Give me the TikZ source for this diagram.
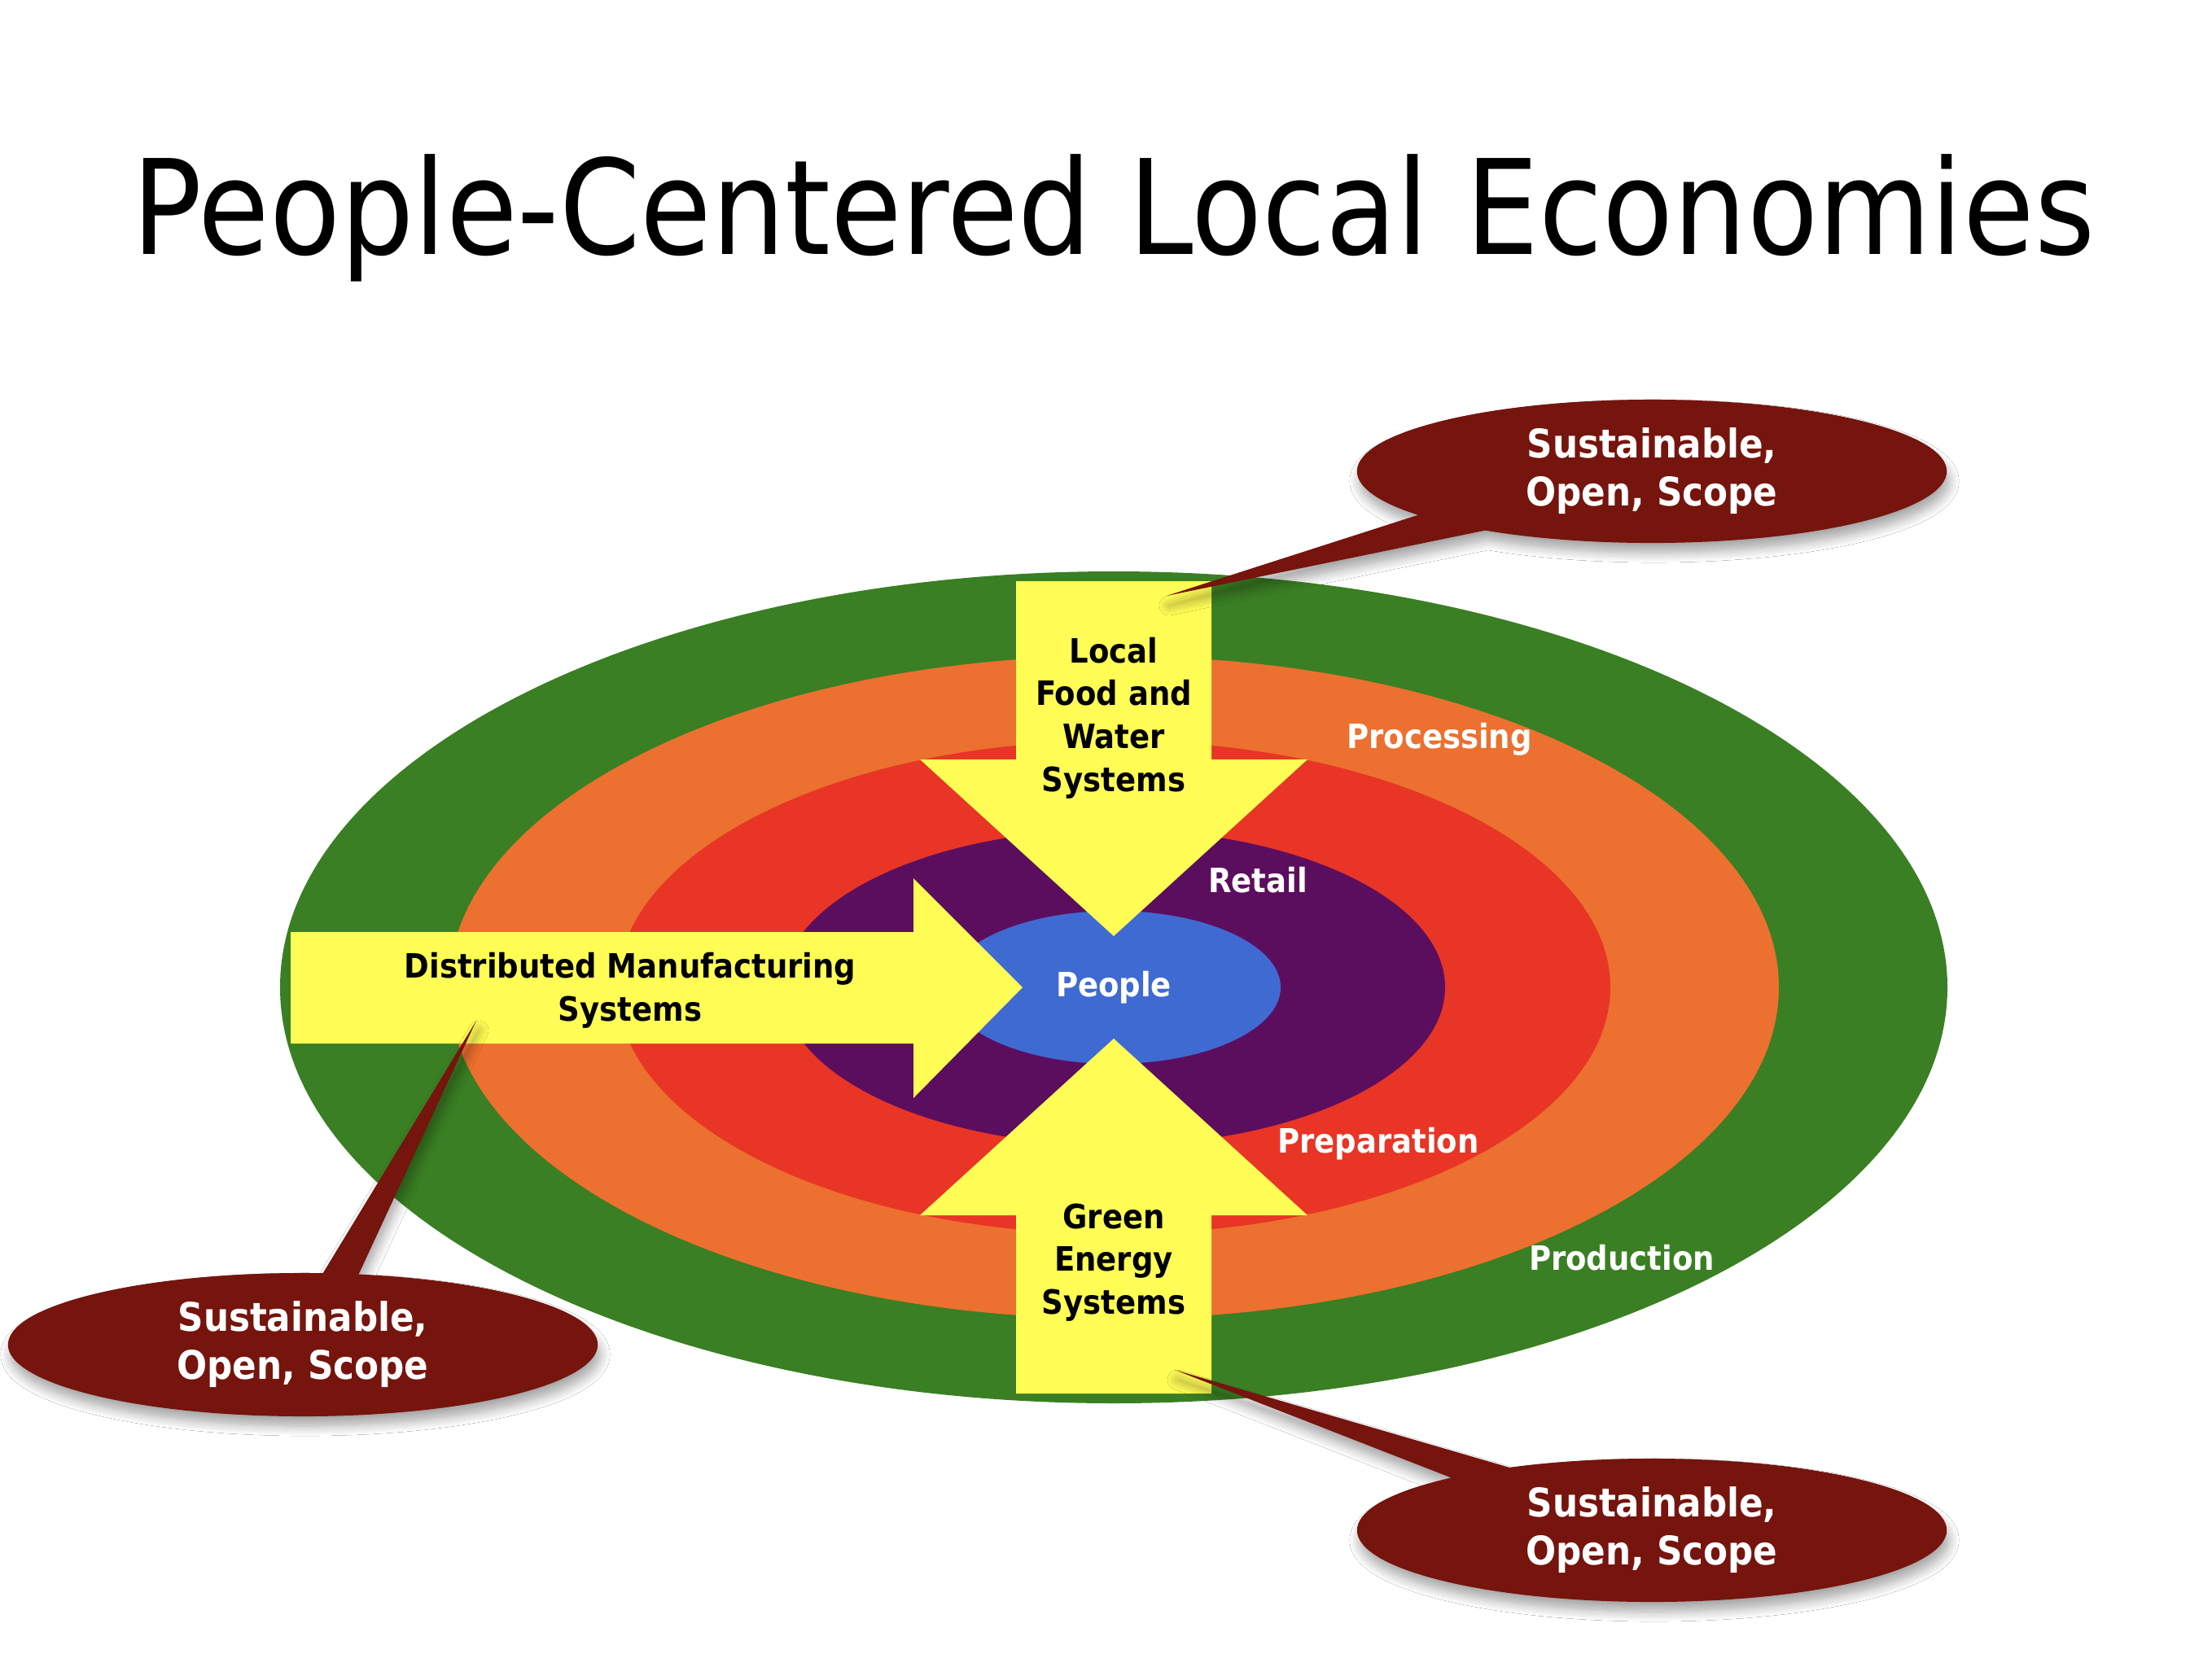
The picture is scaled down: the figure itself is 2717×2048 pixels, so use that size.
\documentclass[tikz,border=0pt]{standalone}
\usepackage{fontspec}
\setmainfont{DejaVu Sans}[FakeStretch=0.9]
\newfontfamily\titlefont{DejaVu Sans}[FakeStretch=0.88]
\usetikzlibrary{shapes.geometric, shapes.callouts, shadows.blur}

\definecolor{ringgreen}{HTML}{3A7F23}
\definecolor{ringorange}{HTML}{EC702F}
\definecolor{ringred}{HTML}{E83526}
\definecolor{ringpurple}{HTML}{5C0E5E}
\definecolor{ringblue}{HTML}{3F6AD2}
\definecolor{arrowyellow}{HTML}{FFFD55}
\definecolor{callred}{HTML}{76140E}

\begin{document}
\begin{tikzpicture}[
        x=0.01cm, y=-0.01cm,
        every node/.style={inner sep=0pt, outer sep=0pt},
        armtext/.style={font=\fontsize{11.7}{15}\selectfont\bfseries, align=center, text=black},
        ringtext/.style={font=\fontsize{11.7}{15}\selectfont\bfseries, text=white},
        % speech bubble round each note
        callbubble/.style={ellipse callout, fill=callred, text=white, align=center,
            minimum width=7.24cm, minimum height=1.76cm,
            font=\fontsize{13.8}{16.8}\selectfont\bfseries,
            blur shadow={shadow blur steps=10, shadow blur radius=0.12cm,
                shadow xshift=0.03cm, shadow yshift=-0.12cm, shadow opacity=35}}
    ]
        % Page size
        \fill[white] (0,0) rectangle (2717,2048);
        \useasboundingbox (0,0) rectangle (2717,2048);

        % Centre of the rings
        \def\cx{1368}
        \def\cy{1213}
        \coordinate (centre) at (\cx,\cy);

        % Title
        \node[anchor=base, font=\titlefont\fontsize{46}{55}\selectfont] (title) at (\cx,312) {People-Centered Local Economies};

        % Rings, outer to inner
        \foreach \rx/\ry/\col in {1024/511/ringgreen, 817/407/ringorange, 610/303/ringred, 407/194/ringpurple, 205/94/ringblue}
            \fill[\col] (centre) ellipse [x radius=\rx, y radius=\ry];

        % Down arrow (food and water)
        \fill[arrowyellow] (1248,714) -- (1488,714) -- (1488,933) -- (1606,933)
            -- (\cx,1150) -- (1130,933) -- (1248,933) -- cycle;
        % Up arrow (energy)
        \fill[arrowyellow] (1248,1712) -- (1488,1712) -- (1488,1493) -- (1606,1493)
            -- (\cx,1276) -- (1130,1493) -- (1248,1493) -- cycle;
        % Right arrow (manufacturing)
        \fill[arrowyellow] (357,1145) -- (1122,1145) -- (1122,1079) -- (1256,\cy)
            -- (1122,1349) -- (1122,1282) -- (357,1282) -- cycle;

        % Arrow labels
        \node[armtext] (foodlabel) at (\cx,882) {Local\\Food and\\Water\\Systems};
        \node[armtext] (makelabel) at (774,1217) {Distributed Manufacturing\\Systems};
        \node[armtext] (energylabel) at (\cx,1551) {Green\\Energy\\Systems};

        % Ring labels
        \node[ringtext] (people) at (centre) {People};
        \node[ringtext] (retail) at (1545,1081) {Retail};
        \node[ringtext] (processing) at (1768,908) {Processing};
        \node[ringtext] (preparation) at (1693,1405) {Preparation};
        \node[ringtext] (production) at (1992,1545) {Production};

        % Pointer tips of the notes
        \coordinate (foodtip) at (1433,732);
        \coordinate (maketip) at (585,1254);
        \coordinate (energytip) at (1443,1683);

        % Notes
        \node[callbubble, callout absolute pointer={(foodtip)}, callout pointer arc=18] (foodnote) at (2029,579) {Sustainable,\\Open, Scope};
        \node[callbubble, callout absolute pointer={(maketip)}, callout pointer arc=7] (makenote) at (372,1652) {Sustainable,\\Open, Scope};
        \node[callbubble, callout absolute pointer={(energytip)}, callout pointer arc=14] (energynote) at (2029,1880) {Sustainable,\\Open, Scope};

    \end{tikzpicture}
\end{document}
